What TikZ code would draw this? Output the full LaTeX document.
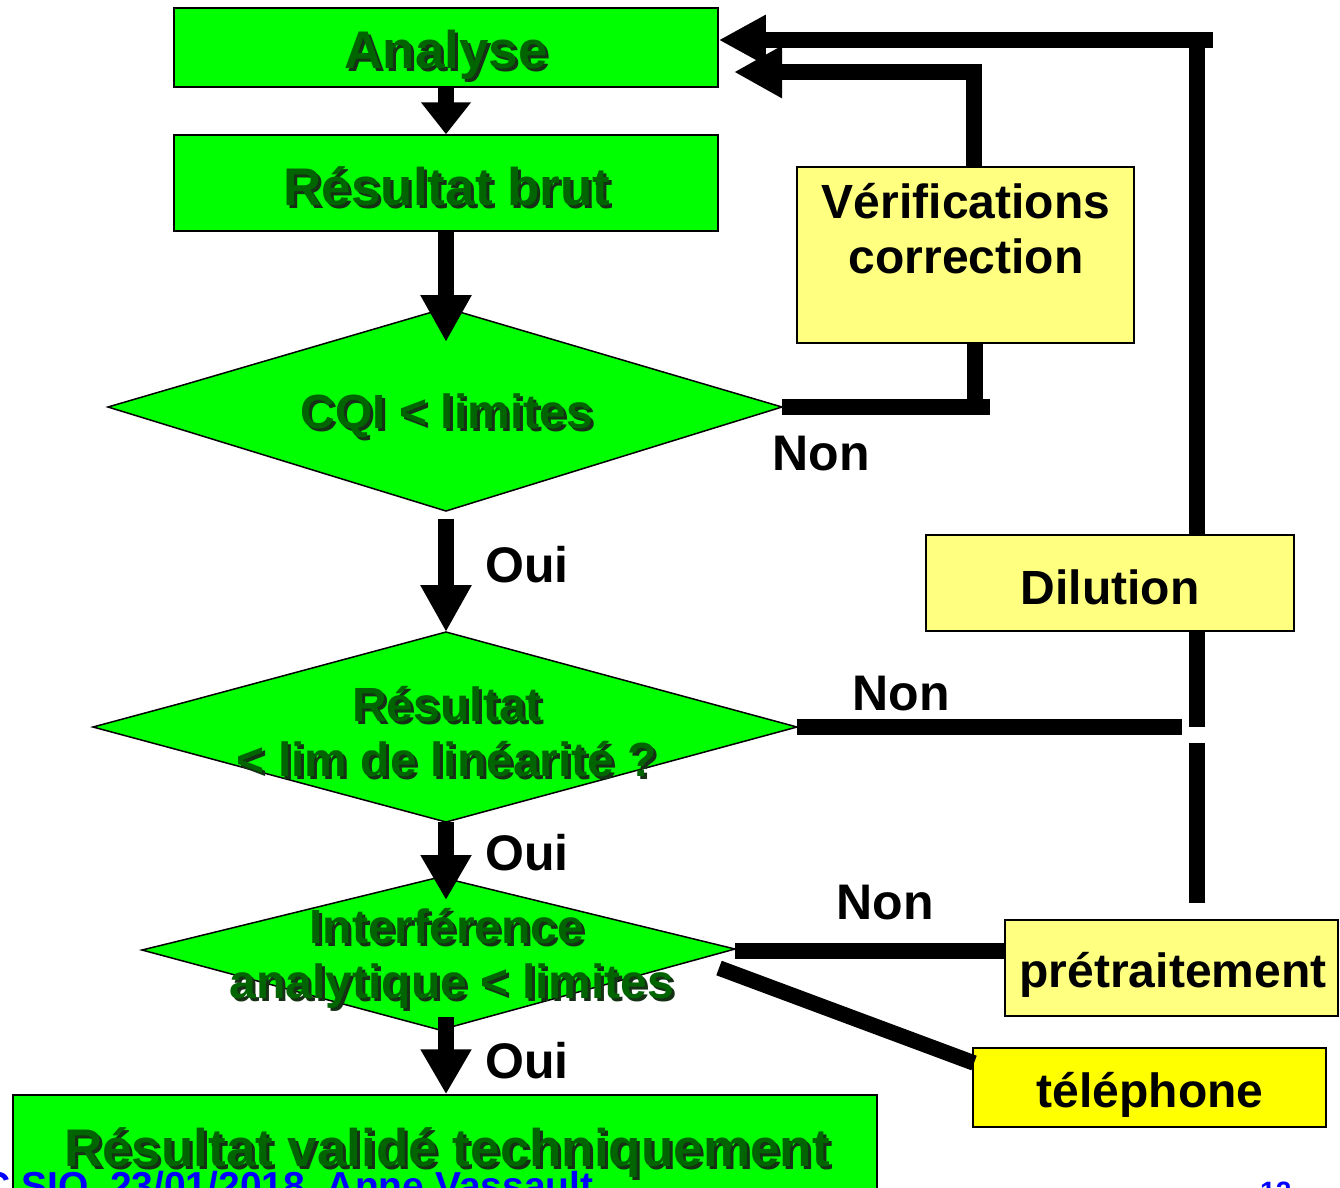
\documentclass[tikz,border=0pt]{standalone}
\usepackage{fontspec}
\setmainfont{Liberation Sans}
\usetikzlibrary{arrows.meta}

\definecolor{vert}{RGB}{0,255,0}
\definecolor{vertfonce}{RGB}{0,100,0}
\definecolor{ombre}{RGB}{22,48,22}
\definecolor{jaunepale}{RGB}{255,255,128}
\definecolor{jaune}{RGB}{255,255,0}
\definecolor{bleu}{RGB}{0,0,255}

% dark green lettering with a drop shadow
\newcommand\ombretxt[1]{\leavevmode\rlap{\kern3pt\raisebox{-3pt}{\color{ombre}#1}}{\color{vertfonce}#1}}

\tikzset{
  gbox/.style={draw=black, line width=1.5pt, fill=vert, inner sep=0pt},
  ybox/.style={draw=black, line width=1.5pt, fill=jaunepale, inner sep=0pt},
  ybright/.style={draw=black, line width=1.5pt, fill=jaune, inner sep=0pt},
  dia/.style={draw=black, line width=1.5pt, fill=vert, line join=miter},
  conn/.style={draw=black, line width=15.5pt, line cap=butt, line join=miter},
  txt/.style={inner sep=0pt, anchor=base},
  big/.style={txt, font=\bfseries\fontsize{53}{53}\selectfont},
  mid/.style={txt, font=\bfseries\fontsize{48}{48}\selectfont},
  lab/.style={txt, font=\bfseries\fontsize{50}{50}\selectfont},
}

\begin{document}
\begin{tikzpicture}[x=1pt, y=-1pt]
\useasboundingbox (0,0) rectangle (1340,1187);
\clip (0,0) rectangle (1340,1187);

% ---- boxes
\node[gbox, minimum width=544pt, minimum height=79pt] (analyse) at (446,47.5) {};
\node[gbox, minimum width=544pt, minimum height=96pt] (brut) at (446,183) {};
\node[ybox, minimum width=337pt, minimum height=176pt] (verif) at (965.5,255) {};
\node[ybox, minimum width=368pt, minimum height=96pt] (dilution) at (1110,583) {};
\node[ybox, minimum width=333pt, minimum height=96pt] (pretrait) at (1171.5,968) {};
\node[ybright, minimum width=353pt, minimum height=79pt] (tel) at (1149.5,1087.5) {};
\node[gbox, minimum width=864pt, minimum height=110pt] (valide) at (445,1150) {};

% ---- decision diamonds
\coordinate (d1t) at (446,308);  \coordinate (d1b) at (446,511);
\coordinate (d1l) at (108,407);  \coordinate (d1r) at (782,407);
\coordinate (d2t) at (446,632);  \coordinate (d2b) at (446,822);
\coordinate (d2l) at (93,727);   \coordinate (d2r) at (797,727);
\coordinate (d3t) at (440,877);  \coordinate (d3b) at (440,1030);
\coordinate (d3l) at (142,950);  \coordinate (d3r) at (735,949);
\draw[dia] (d1t) -- (d1r) -- (d1b) -- (d1l) -- cycle;
\draw[dia] (d2t) -- (d2r) -- (d2b) -- (d2l) -- cycle;
\draw[dia] (d3t) -- (d3r) -- (d3b) -- (d3l) -- cycle;

% ---- main flow arrows
\draw[conn, -{Triangle[length=32pt,width=48pt]}] (analyse.south) -- (brut.north);
\draw[conn, -{Triangle[length=47pt,width=48pt]}] (brut.south) -- (446,342);
\coordinate (o1a) at (446,519);
\draw[conn, -{Triangle[length=47pt,width=48pt]}] (o1a) -- (d2t);
\coordinate (o2b) at (446,900);
\draw[conn, -{Triangle[length=45pt,width=48pt]}] (d2b) -- (o2b);
\coordinate (o3a) at (446,1017);
\draw[conn, -{Triangle[length=45pt,width=48pt]}] (o3a) -- (valide.north -| o3a);

% ---- loop back through the checks
\coordinate (v1) at (990,407);
\draw[conn] (d1r) -- (v1);
\draw[conn] (verif.south -| 975,0) -- (975,415);
\coordinate (v2) at (974,72);
\coordinate (tip2) at (734,72);
\draw[conn, -{Triangle[length=48pt,width=49pt]}] (verif.north -| v2) -- (v2) -- (tip2);

% ---- loop back through dilution / pretreatment
\coordinate (r1) at (1213,40);
\coordinate (r2) at (1197,40);
\draw[conn, -{Triangle[length=47pt,width=47pt]}] (r1) -- (analyse.east |- r1);
\draw[conn] (dilution.north -| r2) -- ([yshift=-7.75pt]r2);
\coordinate (h1) at (1197,727);
\coordinate (h2) at (1197,743);
\coordinate (h3) at (1197,903);
\draw[conn] (dilution.south -| h1) -- (h1);
\draw[conn] (h2) -- (h3);
\coordinate (n2e) at (1182,727);
\draw[conn] (d2r) -- (n2e);
\draw[conn] (d3r |- 0,951) -- (pretrait.west |- 0,951);
\coordinate (g1) at (719,968);
\coordinate (g2) at (974,1063);
\draw[conn] (g1) -- (g2);

% ---- labels in the green shapes
\node[big] (tAnalyse) at (446,68) {\ombretxt{Analyse}};
\node[big] (tBrut) at (447,205) {\ombretxt{Résultat brut}};
\node[mid] (tCQI) at (447,428) {\ombretxt{CQI < limites}};
\node[mid] (tLin1) at (447,721) {\ombretxt{Résultat}};
\node[mid] (tLin2) at (447,776) {\ombretxt{< lim de linéarité ?}};
\node[mid] (tInt1) at (447,943) {\ombretxt{Interférence}};
\node[mid] (tInt2) at (452,998) {\ombretxt{analytique < limites}};
\node[big] (tValide) at (447,1166) {\ombretxt{Résultat validé techniquement}};

% ---- labels in the yellow boxes
\node[mid] (tVerif1) at (966,218) {Vérifications};
\node[mid] (tVerif2) at (966,273) {correction};
\node[mid] (tDil) at (1110,604) {Dilution};
\node[mid] (tPre) at (1173,987) {prétraitement};
\node[mid] (tTel) at (1150,1107) {téléphone};

% ---- branch labels
\node[lab] (non1) at (821,470) {Non};
\node[lab] (non2) at (901,710) {Non};
\node[lab] (non3) at (885,919) {Non};
\node[lab] (oui1) at (527,582) {Oui};
\node[lab] (oui2) at (527,870) {Oui};
\node[lab] (oui3) at (527,1078) {Oui};

% ---- footer
\node[txt, anchor=base west, text=bleu, font=\bfseries\fontsize{39}{39}\selectfont] (footer) at (-18,1199) {C SIQ\ \ 23/01/2018\ \ Anne Vassault};
\node[txt, anchor=base west, text=bleu, font=\bfseries\fontsize{28}{28}\selectfont] (page) at (1260,1201) {12};
\end{tikzpicture}
\end{document}
